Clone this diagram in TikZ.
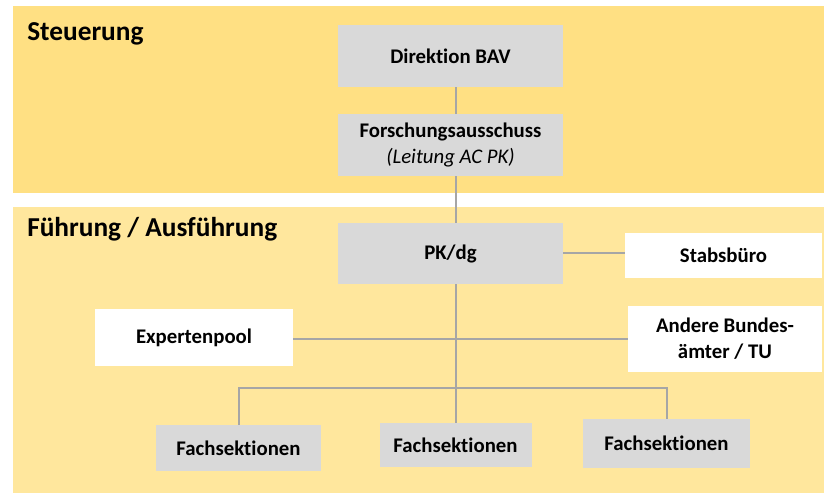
\documentclass[tikz,border=0pt]{standalone}
\usepackage{fontspec}
\setmainfont[Ligatures={NoCommon}]{Carlito}
\usetikzlibrary{positioning}
\definecolor{bandtop}{HTML}{FFE083}
\definecolor{bandlow}{HTML}{FFE79D}
\definecolor{boxgray}{HTML}{D9D9D9}
\definecolor{linegray}{HTML}{A6A6A6}
\begin{document}
\begin{tikzpicture}[
    x=0.75pt, y=-0.75pt,
    band/.style={fill=#1, draw=none},
    title/.style={anchor=base west, inner sep=0pt, font=\fontsize{20.5}{24}\selectfont\bfseries},
    unit/.style={rectangle, fill=boxgray, inner sep=0pt, align=center, font=\fontsize{15.6}{19.5}\selectfont\bfseries},
    side/.style={unit, fill=white},
    link/.style={draw=linegray, line width=1.5pt}
]
    % Background
    \useasboundingbox[fill=white] (0,0) rectangle (824,494);
    \fill[band=bandtop] (13,6) rectangle (824,193);
    \fill[band=bandlow] (13,207) rectangle (824,493);
    \node[title] (steuer) at (27,40) {Steuerung};
    \node[title] (fuehr) at (27,236) {Führung / Ausführung};

    % Steuerung
    \node[unit, minimum width=168.75pt, minimum height=46.5pt] (dir) at (450.5,56) {Direktion BAV};
    \node[unit, minimum width=168.75pt, minimum height=46.5pt] (forsch) at (450.5,145) {Forschungsausschuss\\{\mdseries\itshape (Leitung AC PK)}};

    % Fuehrung
    \node[unit, minimum width=168.75pt, minimum height=45.75pt] (pk) at (450.5,253.5) {PK/dg};
    \node[side, minimum width=147.75pt, minimum height=33.75pt] (stab) at (723.5,255.5) {Stabsbüro};
    \node[side, minimum width=148.5pt, minimum height=42.75pt] (expert) at (194,337.5) {Expertenpool};
    \node[side, minimum width=145.5pt, minimum height=49.5pt] (andere) at (725,339) {Andere Bundes-\\ämter / TU};

    % Fachsektionen
    \node[unit, minimum width=123.75pt, minimum height=34.5pt] (fs1) at (238.5,448) {Fachsektionen};
    \node[unit, minimum width=114pt, minimum height=33pt] (fs2) at (455.5,445) {Fachsektionen};
    \node[unit, minimum width=125.25pt, minimum height=36.75pt] (fs3) at (666.5,443.5) {Fachsektionen};
    \coordinate (bus) at (456,388);
    \coordinate (stabrow) at (0,253);
    \coordinate (poolrow) at (0,339);

    % Lines
    \draw[link] (dir.south -| bus) -- (forsch.north -| bus);
    \draw[link] (forsch.south -| bus) -- (pk.north -| bus);
    \draw[link] (pk.south -| bus) -- (fs2.north -| bus);
    \draw[link] (pk.east |- stabrow) -- (stab.west |- stabrow);
    \draw[link] (expert.east |- poolrow) -- (andere.west |- poolrow);
    \draw[link] (fs1.north) |- (bus) -| (fs3.north);
\end{tikzpicture}
\end{document}
